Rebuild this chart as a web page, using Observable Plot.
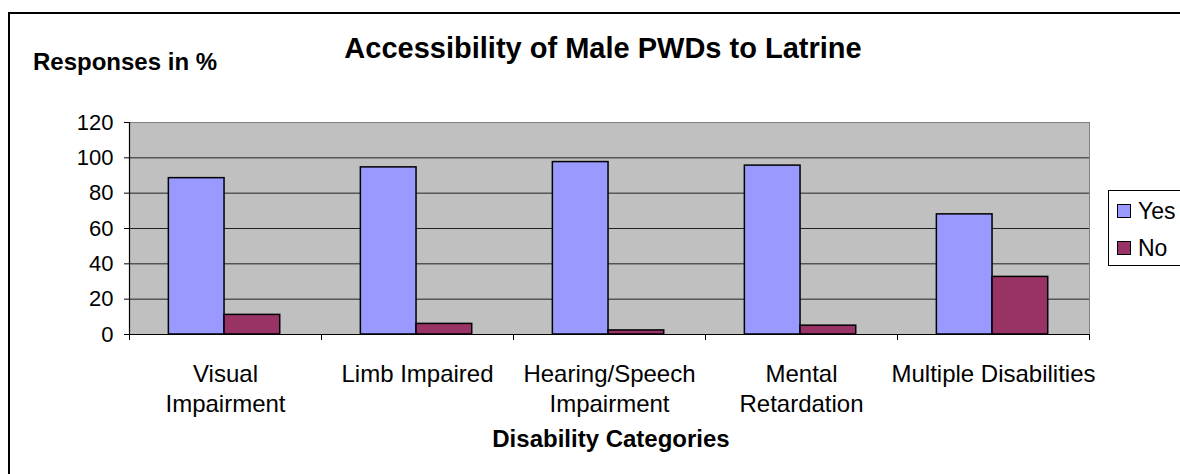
<!DOCTYPE html>
<html>
<head>
<meta charset="utf-8">
<script src="https://cdn.jsdelivr.net/npm/d3@7"></script>
<script src="https://cdn.jsdelivr.net/npm/@observablehq/plot@0.6"></script>
<style>
  html, body { margin: 0; padding: 0; background: #fff; overflow: hidden; }
  #wrap { position: relative; width: 1180px; height: 474px; overflow: hidden; font-family: "Liberation Sans", Arial, sans-serif; color: #000; }
  #border { position: absolute; left: 8px; top: 12px; width: 1220px; height: 520px; border: 2px solid #000; box-sizing: border-box; }
  .t { position: absolute; white-space: nowrap; line-height: 1; font-weight: bold; }
  #chart { position: absolute; left: 0; top: 0; }
  #legend { position: absolute; left: 1108px; top: 190px; width: 100px; height: 76px; border: 1px solid #000; box-sizing: border-box; background: #fff; }
  .li { position: absolute; left: 8px; font-size: 23px; line-height: 1; white-space: nowrap; }
  .sw { display: inline-block; width: 12px; height: 12px; border: 1.5px solid #000; margin-right: 7px; vertical-align: 1px; }
</style>
</head>
<body>
<div id="wrap">
  <div id="border"></div>
  <div id="chart"></div>
  <div class="t" id="title" style="font-size:29px; left:603px; top:34px; transform:translateX(-50%);"></div>
  <div class="t" id="ylabel" style="font-size:24px; left:33px; top:50px;"></div>
  <div class="t" id="xlabel" style="font-size:24px; left:611px; top:427px; transform:translateX(-50%);"></div>
  <div id="legend"></div>
</div>
<script>
// ---- data ----
const categories = ["Visual\nImpairment", "Limb Impaired", "Hearing/Speech\nImpairment", "Mental\nRetardation", "Multiple Disabilities"];
const yesValues = [88.5, 94.6, 97.6, 95.6, 68.0];
const noValues = [11.1, 6.0, 2.3, 5.0, 32.6];
const seriesNames = ["Yes", "No"];
const seriesColors = ["#9999ff", "#993366"];
const yTicks = [0, 20, 40, 60, 80, 100, 120];
const titleText = "Accessibility of Male PWDs to Latrine";
const yLabelText = "Responses in %";
const xLabelText = "Disability Categories";

const table = categories.map((c, i) => ({category: c, yes: yesValues[i], no: noValues[i]}));

document.getElementById("title").textContent = titleText;
document.getElementById("ylabel").textContent = yLabelText;
document.getElementById("xlabel").textContent = xLabelText;

const W = 1180, H = 474;
const mL = 129, mR = 91, mT = 122, mB = 140;
const bw = (W - mL - mR) / categories.length;

const chart = Plot.plot({
  width: W,
  height: H,
  marginLeft: mL,
  marginRight: mR,
  marginTop: mT,
  marginBottom: mB,
  style: {background: "transparent", fontFamily: "'Liberation Sans', Arial, sans-serif", color: "#000", overflow: "visible"},
  x: {type: "band", domain: categories, padding: 0, label: null},
  y: {domain: [0, 120], label: null},
  marks: [
    Plot.frame({fill: "#c0c0c0", stroke: "#808080"}),
    Plot.gridY(yTicks.filter(t => t > 0 && t < 120), {stroke: "#222", strokeOpacity: 1, strokeWidth: 1}),
    Plot.barY(table, {x: "category", y: "yes", fill: seriesColors[0], stroke: "#000", strokeWidth: 1.5, insetLeft: bw * 0.205, insetRight: bw * 0.505}),
    Plot.barY(table, {x: "category", y: "no", fill: seriesColors[1], stroke: "#000", strokeWidth: 1.5, insetLeft: bw * 0.495, insetRight: bw * 0.215}),
    Plot.ruleY([0], {stroke: "#000", strokeWidth: 1.2}),
    Plot.ruleX([categories[0]], {dx: -bw / 2, stroke: "#000", strokeWidth: 1.2}),
    Plot.axisY({ticks: yTicks, tickSize: 5, tickPadding: 11, fontSize: 22, label: null, stroke: "#000"}),
    Plot.axisX({ticks: categories, tickSize: 6, dx: -bw / 2, text: null, label: null, stroke: "#000"}),
    Plot.axisX({ticks: [categories[categories.length - 1]], tickSize: 6, dx: bw / 2, text: null, label: null, stroke: "#000"}),
    Plot.axisX({ticks: categories, tickSize: 0, tickPadding: 26, fontSize: 24, lineHeight: 1.25, label: null})
  ]
});
document.getElementById("chart").appendChild(chart);

const legend = document.getElementById("legend");
seriesNames.forEach((name, i) => {
  const d = document.createElement("div");
  d.className = "li";
  d.style.top = (i === 0 ? 9 : 46) + "px";
  const sw = document.createElement("span");
  sw.className = "sw";
  sw.style.background = seriesColors[i];
  d.appendChild(sw);
  d.appendChild(document.createTextNode(name));
  legend.appendChild(d);
});
</script>
</body>
</html>
